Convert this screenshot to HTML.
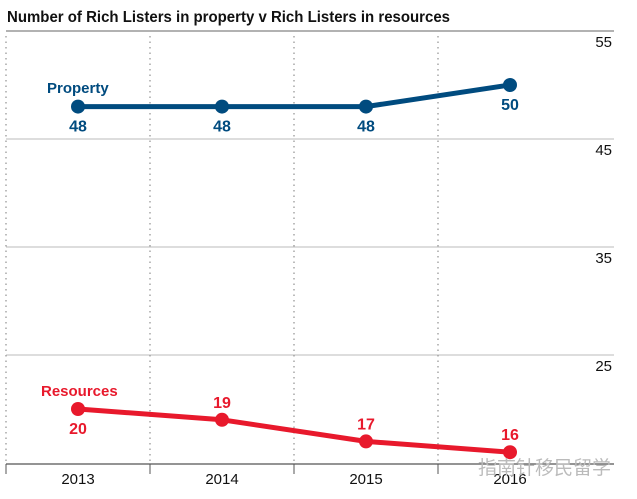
<!DOCTYPE html>
<html><head><meta charset="utf-8"><style>
body{margin:0;background:#fff;}
svg{display:block;font-family:"Liberation Sans Narrow","Liberation Sans",sans-serif;}
</style></head><body>
<svg id="chart" width="637" height="499" viewBox="0 0 637 499" xmlns="http://www.w3.org/2000/svg">
<text x="7" y="22" font-size="16" font-weight="bold" fill="#111" textLength="443" lengthAdjust="spacingAndGlyphs">Number of Rich Listers in property v Rich Listers in resources</text>
<g id="grid"></g><g id="series"></g>
</svg>
<script>
const years=["2013","2014","2015","2016"];
const property=[48,48,48,50];
const resources=[20,19,17,16];
const yTicks=[55,45,35,25];
const NS="http://www.w3.org/2000/svg";
const svg=document.getElementById('chart');
const grid=document.getElementById('grid'),ser=document.getElementById('series');
const y=v=>31+(55-v)*10.8;
const x=i=>78+i*144;
function mk(tag,attrs,parent){const e=document.createElementNS(NS,tag);for(const k in attrs)e.setAttribute(k,attrs[k]);parent.appendChild(e);return e;}
let l=mk('line',{x1:6,x2:614,y1:31,y2:31,stroke:'#666','stroke-width':1},grid);


yTicks.forEach(t=>{
  if(t!==55){const g=mk('line',{x1:6,x2:614,y1:y(t),y2:y(t),stroke:'#bbb','stroke-width':1},grid);
  
  }
  const tx=mk('text',{x:612,y:y(t)+16,'text-anchor':'end','font-size':15,fill:'#111'},grid);
  tx.textContent=t;
  
  
});
for(let i=0;i<4;i++){
  const xv=6+i*144;
  const d=mk('line',{x1:xv,x2:xv,y1:36,y2:462,stroke:'#999','stroke-width':1.3,'stroke-dasharray':'1.5,4'},grid);
  
  
  const tk=mk('line',{x1:xv,x2:xv,y1:464,y2:474,stroke:'#555','stroke-width':1},grid);
  
  
  const lb=mk('text',{x:x(i),y:484,'text-anchor':'middle','font-size':15,fill:'#111'},grid);
  lb.textContent=years[i];
  
  
}
const base=mk('line',{x1:6,x2:614,y1:464,y2:464,stroke:'#555','stroke-width':1.2},grid);


function series(vals,color,name,labelPos){
  const p=mk('polyline',{points:vals.map((v,i)=>x(i)+','+y(v)).join(' '),fill:'none',stroke:color,'stroke-width':5,'stroke-linejoin':'round'},ser);
  
  
  vals.forEach((v,i)=>{
    const c=mk('circle',{cx:x(i),cy:y(v),r:7,fill:color},ser);
    
    
    const below=labelPos[i];
    const t=mk('text',{x:x(i),y:below?y(v)+25:y(v)-12,'text-anchor':'middle','font-size':16,'font-weight':'bold',fill:color},ser);
    t.textContent=v;
    
    
  });
}
series(property,'#004b7f','property',[true,true,true,true]);
series(resources,'#e8192c','resources',[true,false,false,false]);
const lp=mk('text',{x:47,y:93,'font-size':15,'font-weight':'bold',fill:'#004b7f'},ser);
lp.textContent='Property';


const lr=mk('text',{x:41,y:396,'font-size':15,'font-weight':'bold',fill:'#e8192c'},ser);
lr.textContent='Resources';


const wm=mk('text',{x:478,y:474,'font-size':19,fill:'#bbb','font-family':'"Liberation Sans","Noto Sans CJK SC",sans-serif'},ser);
wm.textContent='指南针移民留学';


</script>
</body></html>
